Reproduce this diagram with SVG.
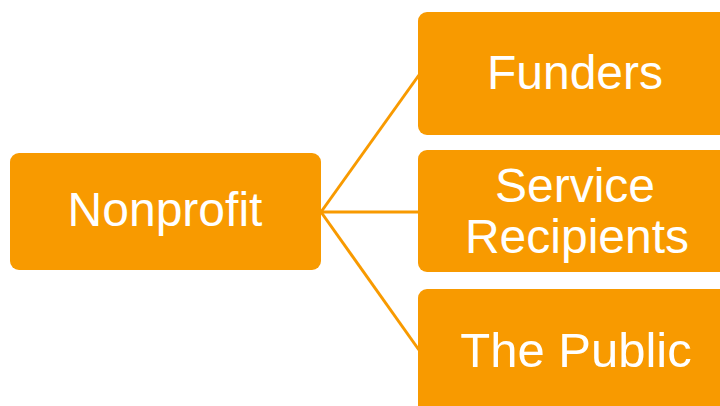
<svg xmlns="http://www.w3.org/2000/svg" width="720" height="406" viewBox="0 0 720 406">
<style>
.box{fill:#F89A00;}
.lbl{fill:#FFFFFF;font-family:"Liberation Sans",Arial,sans-serif;font-size:48px;text-anchor:middle;}
.con{stroke:#F89A00;stroke-width:3;fill:none;}
</style>
<rect width="720" height="406" fill="#FFFFFF"/>
<g id="connectors">
<line class="con" x1="321" y1="212" x2="419" y2="75"/>
<line class="con" x1="321" y1="212" x2="419" y2="212"/>
<line class="con" x1="321" y1="212" x2="419" y2="350"/>
</g>
<g id="nonprofit">
<rect class="box" x="10" y="153" width="311" height="117" rx="9"/>
<text class="lbl" x="165" y="226">Nonprofit</text>
</g>
<g id="funders">
<rect class="box" x="418" y="12" width="320" height="123" rx="9"/>
<text class="lbl" x="575" y="89">Funders</text>
</g>
<g id="service-recipients">
<rect class="box" x="418" y="150" width="320" height="122" rx="9"/>
<text class="lbl" x="575" y="202">Service</text>
<text class="lbl" x="577" y="253">Recipients</text>
</g>
<g id="the-public">
<rect class="box" x="418" y="289" width="320" height="130" rx="9"/>
<text class="lbl" x="576" y="367" style="font-size:49px">The Public</text>
</g>
</svg>
